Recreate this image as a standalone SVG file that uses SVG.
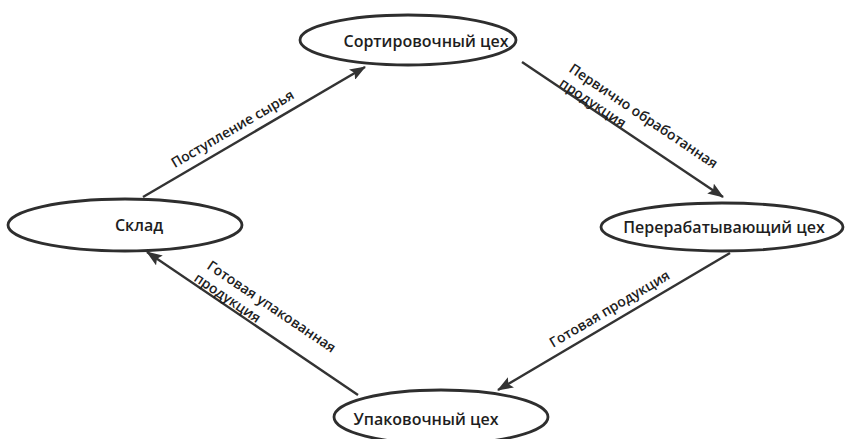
<svg xmlns="http://www.w3.org/2000/svg" width="846" height="439" viewBox="0 0 846 439">
<defs>
<style>
.node ellipse{fill:#ffffff;stroke:#2e2e2e;stroke-width:2.8}
.node text{font-family:"Open Sans","DejaVu Sans",sans-serif;font-size:16px;font-weight:600;fill:#1e1e1e;text-anchor:middle;dominant-baseline:central}
.edges line{stroke:#333333;stroke-width:2.4;marker-end:url(#arrow)}
.lbl{font-family:"Open Sans","DejaVu Sans",sans-serif;font-size:14px;font-weight:600;fill:#1e1e1e}
</style>
<marker id="arrow" viewBox="0 0 16 12" refX="15" refY="6" markerWidth="16" markerHeight="12" markerUnits="userSpaceOnUse" orient="auto">
<path d="M0,0 L16,6 L0,12 L3,6 Z" fill="#333333"/>
</marker>
</defs>
<rect width="846" height="439" fill="#ffffff"/>
<g id="edges" class="edges">
<line x1="143" y1="197" x2="365" y2="67"/>
<line x1="522" y1="62" x2="723" y2="197"/>
<line x1="730" y1="253" x2="498" y2="390"/>
<line x1="358" y1="395" x2="147" y2="252"/>
</g>
<g id="edge-labels">
<text class="lbl" text-anchor="middle" transform="translate(235,133) rotate(-30.4)">Поступление сырья</text>
<text class="lbl" transform="translate(568,71) rotate(33.9)"><tspan x="0" y="0">Первично обработанная</tspan><tspan x="0" y="17.5">продукция</tspan></text>
<text class="lbl" text-anchor="middle" transform="translate(612,313) rotate(-30.6)">Готовая продукция</text>
<text class="lbl" transform="translate(206,268) rotate(34.1)"><tspan x="0" y="0">Готовая упакованная</tspan><tspan x="-4" y="17.5">продукция</tspan></text>
</g>
<g id="node-sort" class="node">
<ellipse cx="408" cy="40" rx="108" ry="25"/>
<text x="426" y="41">Сортировочный цех</text>
</g>
<g id="node-sklad" class="node">
<ellipse cx="125" cy="225" rx="117" ry="26"/>
<text x="139" y="225">Склад</text>
</g>
<g id="node-pererab" class="node">
<ellipse cx="722" cy="227" rx="121" ry="24"/>
<text x="724" y="227">Перерабатывающий цех</text>
</g>
<g id="node-upak" class="node">
<ellipse cx="441" cy="417" rx="107" ry="27"/>
<text x="426" y="419">Упаковочный цех</text>
</g>
</svg>
